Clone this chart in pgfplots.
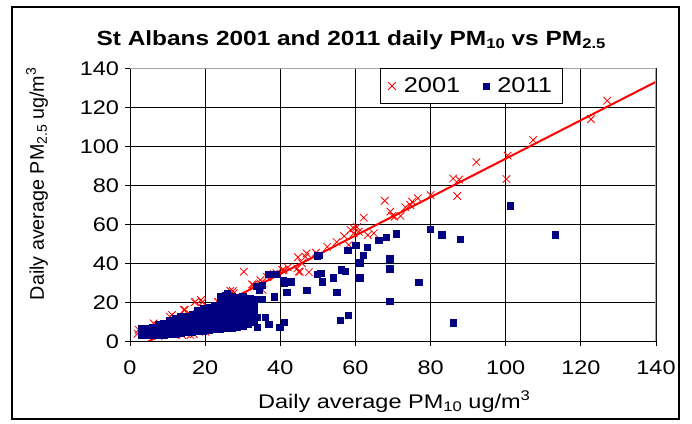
\documentclass[border=0pt]{standalone}
\usepackage{pgfplots}
\pgfplotsset{compat=1.18}
\usepackage{fontspec}
\setmainfont[FakeStretch=1.19]{Liberation Sans}
\newfontfamily\ylabfont{Liberation Sans}
\definecolor{navyb}{RGB}{0,0,128}
\newcommand\lab{\fontsize{14.8pt}{17pt}\selectfont}
\newcommand\subs[1]{\raisebox{-0.3ex}{\fontsize{10.5pt}{11pt}\selectfont #1}}
\newcommand\sups[1]{\raisebox{0.75ex}{\fontsize{10.5pt}{11pt}\selectfont #1}}
\begin{document}
\begin{tikzpicture}
\path[use as bounding box] (0,0) rectangle (519pt,318pt);
\draw[black, line width=1pt] (9pt,3.75pt) rectangle (509.25pt,312.75pt);
\begin{axis}[
  at={(97.5pt,61.875pt)}, anchor=south west,
  scale only axis, width=394.5pt, height=204.75pt,
  xmin=0, xmax=140, ymin=0, ymax=140,
  xtick={0,20,...,140}, ytick={0,20,...,140},
  grid=major, major grid style={black, line width=0.6pt},
  tick style={black, line width=0.6pt}, tick align=outside, major tick length=3.75pt,
  xtick pos=bottom, ytick pos=left,
  axis line style={draw=none},
  /pgf/number format/assume math mode=true,
  ticklabel style={font=\lab},
  xticklabel style={yshift=-7pt},
  yticklabel style={xshift=-1pt},
  legend style={at={(0.475,1)}, anchor=north west, legend columns=2, draw=black,
    line width=0.6pt, font=\fontsize{16pt}{18pt}\selectfont, inner xsep=6pt, inner ysep=4.5pt,
    /tikz/every odd column/.append style={column sep=4pt},
    /tikz/every even column/.append style={column sep=15pt}},
]
\addplot[only marks, mark=x, mark size=4pt, red, mark options={line width=0.6pt}] coordinates {
(127,123.5) (122.7,114) (107.3,103.3) (100.5,95.3) (100.2,83.3) (92.2,92)
(86,83.6) (87.6,83) (87.1,74.6) (80,75.1) (76.6,73.4) (75.1,71.7) (74.6,70)
(73.3,68.8) (72,64.4) (67.8,72.2) (69.3,66.6) (69.8,64.4) (70.4,64) (62.2,63.5)
(59.5,58.1) (58.7,57.2) (60.4,58.6) (60.9,56.3) (63.3,54.6) (64.9,55.5) (58.2,49.5)
(59.5,55.5) (47,45.2) (46.7,43.5) (44.7,43.2) (44.9,35.8) (47.6,35.5) (45.8,40.1)
(40.9,36.7) (39,35) (30.3,35.8) (32.5,29.3) (34.7,29.8) (35.3,26.4) (26.7,26)
(27.6,24.7) (31.6,17) (26.7,11) (28.5,9.3) (45.2,35.8) (44.5,37.5) (40.5,36.7)
(38.3,34.6) (34.7,31.5) (32.8,29) (31.2,17.8) (26.7,12.7) (28.5,9.6) (23.3,20.4)
(17.4,20.4) (18.9,21.3) (14.3,16.2) (10.6,12.7) (27.4,25.9) (23.6,20.1) (17.2,20.1)
(19.2,20.1) (14.6,16.2) (11.2,13.6) (26.8,11.4) (6.3,9.3)
(49.5,45.5) (52.5,48.5) (55,51) (57,54) (36.5,33) (42,38)
(13.9,3.3) (16.1,3.3) (17,3.8) (20.1,5) (8.5,3.3) (7.6,2.8) (2.3,6) (2,4)
(4,4) (5,5.5) (6,4) (7,6) (8,7) (9,8) (10,9) (11,7) (12,10) (13,11) (14,9) (15,12)
(16,14) (17,11) (18,15) (19,13) (20,16) (21,17) (22,14) (23,18) (24,19) (25,17)
(26,21) (27,18) (28,22) (29,20) (30,23)
};
\addlegendentry{2001}
\addplot[only marks, mark=square*, mark size=2.4pt, navyb, mark options={fill=navyb, draw=navyb, line width=0.2pt}] coordinates {
(101.2,69.6) (79.9,57.5) (82.9,54.8) (87.9,52.4) (113.1,54.8) (70.8,55.3) (68.2,53.6)
(66.2,51.9) (63.1,48.3) (60.1,49.5) (62,44.4) (61.1,40.4) (57.9,46.8) (69.1,42.5)
(69.1,37.3) (61.1,32.7) (76.8,30.5) (69.1,20.8) (86,9.7) (58,13.6) (56,11)
(56.2,36.8) (57.2,36.2) (54,32.7) (55,25.2) (50.7,35) (49.8,34.6) (51.1,30.7)
(47,26.4) (41.7,25.2) (41.8,30.7) (40.7,31.5) (42.7,30.7) (36.9,34.5) (38.9,34.4)
(50.4,44.4) (49.8,44) (39.8,7.3) (41,9.8) (36.9,8.8) (33.9,7.3) (36,12.4) (33.8,12.4)
(31.9,14.1) (32.9,16.5) (29.1,15.3) (38.3,23) (35,21.6) (33.8,21.6) (31.8,22.2)
(34.3,26.4) (33.6,28.5) (35.2,29) (41,29.8) (25.4,7.6) (28.5,19.6) (27.2,22.2) (25.8,24.7)
(3,3.5) (3,6.5) (4.5,3.5) (4.5,6.5) (6,3.5) (6,6.5) (6,7.5)
(7.5,3.5) (7.5,6.5) (7.5,9) (9,3.5) (9,6.5) (9,9.5)
(10.5,3.8) (10.5,6.8) (10.5,9.8) (10.5,11) (12,4) (12,7) (12,10) (12,12)
(13.5,4.5) (13.5,7.5) (13.5,10.5) (13.5,12.7) (15,5) (15,8) (15,11) (15,13)
(16.5,5) (16.5,8) (16.5,11) (16.5,14) (18,5.5) (18,8.5) (18,11.5) (18,14.5) (18,16)
(19.5,5.5) (19.5,8.5) (19.5,11.5) (19.5,14.5) (19.5,17)
(21,6) (21,9) (21,12) (21,15) (21,17.5) (22.5,6.5) (22.5,9.5) (22.5,12.5) (22.5,15.5) (22.5,18.5)
(24,6.5) (24,9.5) (24,12.5) (24,15.5) (24,18.5) (24,21.5) (24,23)
(25.5,7) (25.5,10) (25.5,13) (25.5,16) (25.5,19) (25.5,22) (25.5,23.5)
(27,7) (27,10) (27,13) (27,16) (27,19) (27,22) (27,23)
(28.5,7.5) (28.5,10.5) (28.5,13.5) (28.5,16.5) (28.5,19.5) (28.5,22.5)
(30,8) (30,11) (30,14) (30,17) (30,20) (30,23)
(31.5,9) (31.5,12) (31.5,15) (31.5,18) (31.5,21) (33,10) (33,13) (33,18) (33,20)
};
\addlegendentry{2011}
\addplot[red, line width=1.5pt, forget plot] coordinates {(4.9,0) (140,133.2)};
\draw[black, line width=0.8pt] (rel axis cs:0,1) -- (rel axis cs:0,0) -- (rel axis cs:1,0);
\draw[gray!70, line width=1pt] (rel axis cs:0,1) -- (rel axis cs:1,1) -- (rel axis cs:1,0);
\end{axis}
\node[font=\fontsize{15.4pt}{18pt}\selectfont\bfseries] at (263.25pt,288pt) {St Albans 2001 and 2011 daily PM\subs{10} vs PM\subs{2.5}};
\node[font=\lab] at (295.5pt,16.5pt) {Daily average PM\subs{10} ug/m\sups{3}};
\node[font=\ylabfont\lab, rotate=90] at (27.75pt,180pt) {\ylabfont Daily average PM\subs{2.5} ug/m\sups{3}};
\end{tikzpicture}
\end{document}
